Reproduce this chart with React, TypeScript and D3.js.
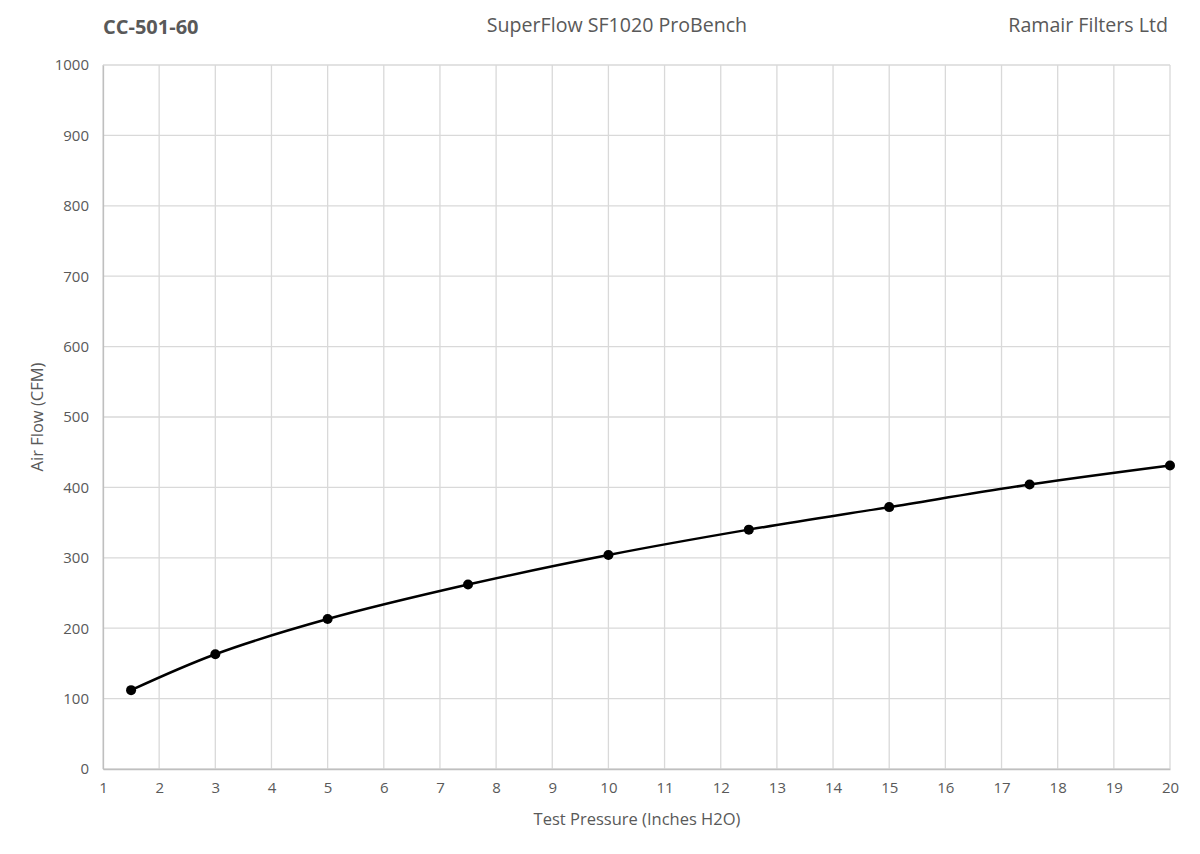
import * as d3 from "d3";
import { useEffect, useRef } from "react";

const pressure = [1.5, 3, 5, 7.5, 10, 12.5, 15, 17.5, 20];
const airFlow = [112, 163, 213, 262, 304, 340, 372, 404, 431];
const xTicks = d3.range(1, 21);
const yTicks = d3.range(0, 1001, 100);

const W = 1200;
const H = 854;
const margin = { left: 103, right: 30, top: 65, bottom: 85 };
const grey = "#595959";
const font = "'Open Sans', 'Noto Sans', sans-serif";

function FlowChart() {
  const ref = useRef<SVGSVGElement | null>(null);

  useEffect(() => {
    document.body.style.margin = "0";
    const svg = d3.select(ref.current);
    svg.selectAll("*").remove();

    const x = d3.scaleLinear().domain([1, 20]).range([margin.left, W - margin.right]);
    const y = d3.scaleLinear().domain([0, 1000]).range([H - margin.bottom, margin.top]);

    // grid
    const grid = svg.append("g").attr("stroke", "#d9d9d9").attr("stroke-width", 1.3);
    grid
      .selectAll(".vx")
      .data(xTicks)
      .join("line")
      .attr("x1", (d) => x(d))
      .attr("x2", (d) => x(d))
      .attr("y1", y(0))
      .attr("y2", y(1000));
    grid
      .selectAll(".hy")
      .data(yTicks)
      .join("line")
      .attr("x1", x(1))
      .attr("x2", x(20))
      .attr("y1", (d) => y(d))
      .attr("y2", (d) => y(d));

    // axes
    const xAxis = d3.axisBottom(x).tickValues(xTicks).tickSize(0).tickPadding(13).tickFormat(d3.format("d"));
    const yAxis = d3.axisLeft(y).tickValues(yTicks).tickSize(0).tickPadding(14).tickFormat(d3.format("d"));

    const gx = svg.append("g").attr("transform", `translate(0, ${y(0)})`).call(xAxis);
    const gy = svg.append("g").attr("transform", `translate(${x(1)}, 0)`).call(yAxis);
    [gx, gy].forEach((g) => {
      g.select(".domain").attr("stroke", "#bfbfbf").attr("stroke-width", 1.3);
      g.selectAll("text").attr("fill", grey).attr("font-size", 15).attr("font-family", font);
    });

    // line
    const pts = pressure.map((p, i) => [p, airFlow[i]] as [number, number]);
    const line = d3
      .line<[number, number]>()
      .x((d) => x(d[0]))
      .y((d) => y(d[1]))
      .curve(d3.curveCatmullRom.alpha(0.5));
    svg
      .append("path")
      .datum(pts)
      .attr("d", line)
      .attr("fill", "none")
      .attr("stroke", "#000")
      .attr("stroke-width", 2.5);
    svg
      .selectAll(".pt")
      .data(pts)
      .join("circle")
      .attr("cx", (d) => x(d[0]))
      .attr("cy", (d) => y(d[1]))
      .attr("r", 5)
      .attr("fill", "#000");

    // titles
    const text = (tx: number, ty: number, s: string, size: number, anchor: string, weight = "normal") =>
      svg
        .append("text")
        .attr("x", tx)
        .attr("y", ty)
        .attr("text-anchor", anchor)
        .attr("font-size", size)
        .attr("font-weight", weight)
        .attr("font-family", font)
        .attr("fill", grey)
        .text(s);

    text(103, 34, "CC-501-60", 20, "start", "bold");
    text(617, 32, "SuperFlow SF1020 ProBench", 19.6, "middle");
    text(1168, 32, "Ramair Filters Ltd", 19.6, "end");
    text(637, 825, "Test Pressure (Inches H2O)", 16.5, "middle");
    svg
      .append("text")
      .attr("transform", `translate(43, ${(y(0) + y(1000)) / 2}) rotate(-90)`)
      .attr("text-anchor", "middle")
      .attr("font-size", 16.5)
      .attr("font-family", font)
      .attr("fill", grey)
      .text("Air Flow (CFM)");
  }, []);

  return <svg ref={ref} width={W} height={H} style={{ display: "block", background: "#fff" }}></svg>;
}

export default function App() {
  return <FlowChart />;
}
